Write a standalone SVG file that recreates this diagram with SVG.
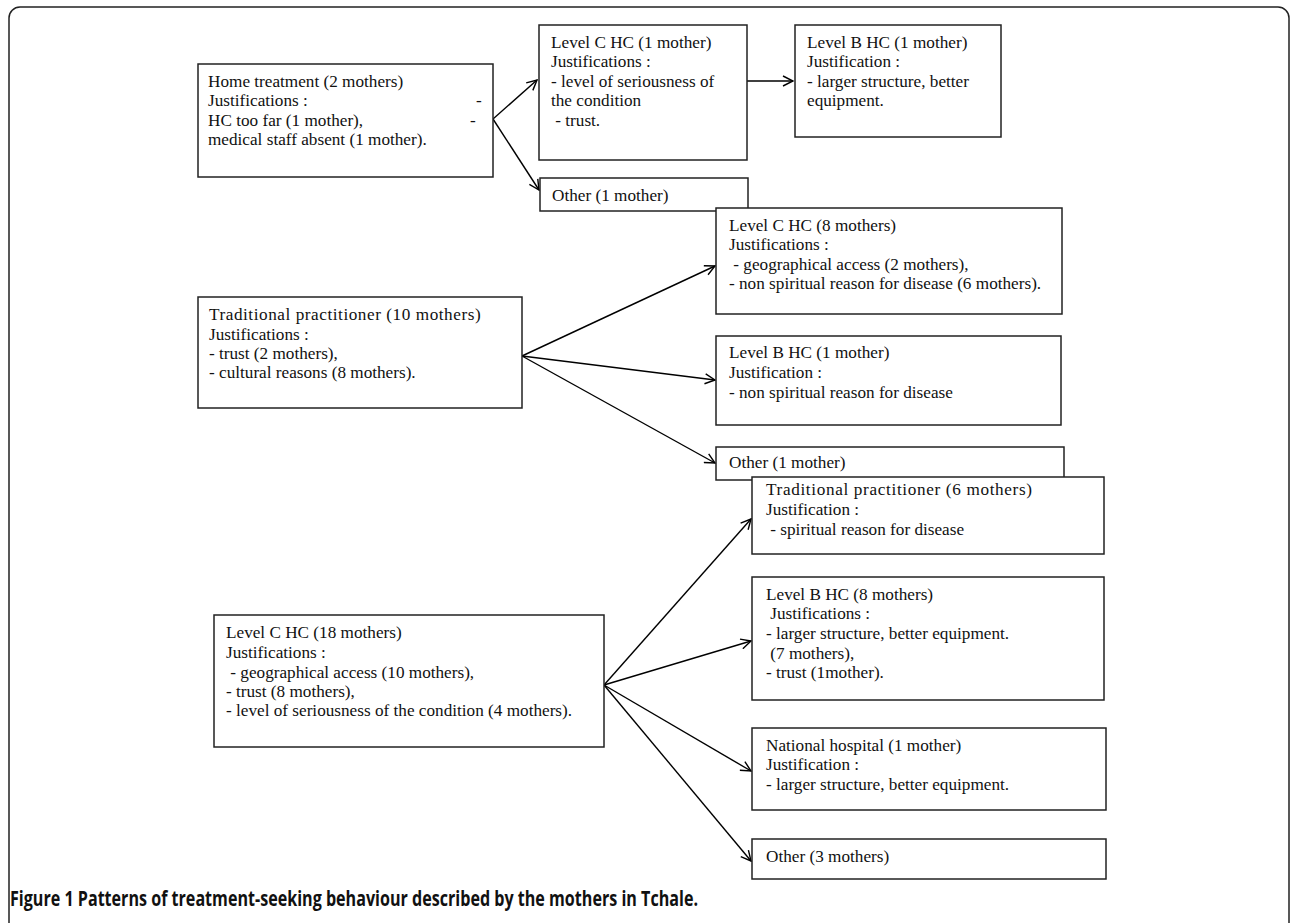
<svg xmlns="http://www.w3.org/2000/svg" width="1290" height="923" viewBox="0 0 1290 923">
<defs>
<marker id="arr" viewBox="0 0 12 12" refX="11" refY="6" markerWidth="12" markerHeight="12" markerUnits="userSpaceOnUse" orient="auto">
<path d="M1,1 L11,6 L1,11" fill="none" stroke="#000" stroke-width="1.4"/>
</marker>
<style>
.box{fill:#fff;stroke:#222;stroke-width:1.5}
.c line{stroke:#000;stroke-width:1.4;marker-end:url(#arr)}
</style>
</defs>
<rect x="0" y="0" width="1290" height="923" fill="#fff"/>
<rect x="9" y="7" width="1280" height="940" rx="11" fill="none" stroke="#222" stroke-width="1.5"/>

<g id="connectors" class="c">
<line x1="493" y1="119" x2="537" y2="80"/>
<line x1="493" y1="119" x2="539" y2="190"/>
<line x1="747" y1="81" x2="793" y2="81"/>
<line x1="522" y1="356" x2="715" y2="266"/>
<line x1="522" y1="356" x2="715" y2="380"/>
<line x1="522" y1="356" x2="715" y2="463"/>
<line x1="604" y1="685" x2="751" y2="519"/>
<line x1="604" y1="685" x2="751" y2="641"/>
<line x1="604" y1="685" x2="751" y2="771"/>
<line x1="604" y1="685" x2="751" y2="861"/>
</g>

<g font-family="Liberation Serif" font-size="17.2" fill="#111">
<g id="home">
<rect class="box" x="198" y="64" width="295" height="113"/>
<text x="208" y="87">Home treatment (2 mothers)</text>
<text x="208" y="106">Justifications :</text>
<text x="476" y="106">-</text>
<text x="208" y="126">HC too far (1 mother),</text>
<text x="470" y="126">-</text>
<text x="208" y="145">medical staff absent (1 mother).</text>
</g>

<g id="levelC1">
<rect class="box" x="539" y="25" width="208" height="135"/>
<text x="551" y="48">Level C HC (1 mother)</text>
<text x="551" y="67">Justifications :</text>
<text x="551" y="87">- level of seriousness of</text>
<text x="551" y="106">the condition</text>
<text x="551" y="126" xml:space="preserve"> - trust.</text>
</g>

<g id="levelB1">
<rect class="box" x="795" y="25" width="206" height="112"/>
<text x="807" y="48">Level B HC (1 mother)</text>
<text x="807" y="67">Justification :</text>
<text x="807" y="87">- larger structure, better</text>
<text x="807" y="106">equipment.</text>
</g>

<g id="other1">
<rect class="box" x="540" y="178" width="208" height="33"/>
<text x="552" y="201">Other (1 mother)</text>
</g>

<g id="trad10">
<rect class="box" x="198" y="297" width="324" height="111"/>
<text x="209" y="320" letter-spacing="0.55">Traditional practitioner (10 mothers)</text>
<text x="209" y="340">Justifications :</text>
<text x="209" y="359">- trust (2 mothers),</text>
<text x="209" y="378">- cultural reasons (8 mothers).</text>
</g>

<g id="levelC8">
<rect class="box" x="716" y="208" width="346" height="106"/>
<text x="729" y="231">Level C HC (8 mothers)</text>
<text x="729" y="250">Justifications :</text>
<text x="729" y="270" xml:space="preserve"> - geographical access (2 mothers),</text>
<text x="729" y="289">- non spiritual reason for disease (6 mothers).</text>
</g>

<g id="levelB1b">
<rect class="box" x="716" y="336" width="345" height="89"/>
<text x="729" y="358">Level B HC (1 mother)</text>
<text x="729" y="378">Justification :</text>
<text x="729" y="398">- non spiritual reason for disease</text>
</g>

<g id="other1b">
<rect class="box" x="716" y="447" width="348" height="33"/>
<text x="729" y="468">Other (1 mother)</text>
</g>

<g id="trad6">
<rect class="box" x="752" y="477" width="352" height="77"/>
<text x="766" y="495" letter-spacing="0.65">Traditional practitioner (6 mothers)</text>
<text x="766" y="515">Justification :</text>
<text x="766" y="535" xml:space="preserve"> - spiritual reason for disease</text>
</g>

<g id="levelB8">
<rect class="box" x="752" y="577" width="352" height="123"/>
<text x="766" y="600">Level B HC (8 mothers)</text>
<text x="766" y="619" xml:space="preserve"> Justifications :</text>
<text x="766" y="639">- larger structure, better equipment.</text>
<text x="766" y="659" xml:space="preserve"> (7 mothers),</text>
<text x="766" y="678">- trust (1mother).</text>
</g>

<g id="levelC18">
<rect class="box" x="214" y="615" width="390" height="132"/>
<text x="226" y="638">Level C HC (18 mothers)</text>
<text x="226" y="658">Justifications :</text>
<text x="226" y="678" xml:space="preserve"> - geographical access (10 mothers),</text>
<text x="226" y="697">- trust (8 mothers),</text>
<text x="226" y="716">- level of seriousness of the condition (4 mothers).</text>
</g>

<g id="national">
<rect class="box" x="752" y="728" width="354" height="82"/>
<text x="766" y="751">National hospital (1 mother)</text>
<text x="766" y="770">Justification :</text>
<text x="766" y="790">- larger structure, better equipment.</text>
</g>

<g id="other3">
<rect class="box" x="752" y="839" width="354" height="40"/>
<text x="766" y="862">Other (3 mothers)</text>
</g>
</g>

<text x="10" y="906" font-family="Open Sans" font-weight="bold" font-size="21" fill="#111" textLength="688" lengthAdjust="spacingAndGlyphs">Figure 1 Patterns of treatment-seeking behaviour described by the mothers in Tchale.</text>
</svg>
